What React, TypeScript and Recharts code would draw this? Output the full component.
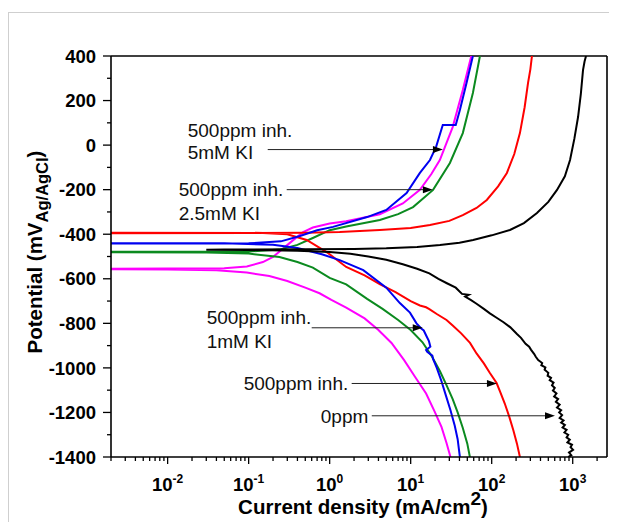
import React from "react";
import { LineChart, Line, XAxis, YAxis, ReferenceLine } from "recharts";

type Pt = [number, number];

// [current density mA/cm2, potential mV]
const blackCurve: Pt[] = [
  [880, -1400], [960, -1392], [900, -1380], [1010, -1368], [940, -1356], [980, -1345],
  [860, -1335], [920, -1322], [840, -1312], [880, -1300], [790, -1290], [840, -1278],
  [750, -1268], [800, -1256], [720, -1246], [770, -1236], [690, -1225], [740, -1212],
  [680, -1200], [720, -1190], [640, -1178], [690, -1165], [620, -1152], [660, -1140],
  [590, -1128], [630, -1115], [570, -1102], [600, -1090], [555, -1078], [580, -1066],
  [520, -1055], [540, -1045], [490, -1035], [500, -1022], [450, -1008], [460, -998],
  [410, -988], [420, -978], [375, -965], [350, -950], [335, -938], [305, -918], [290, -905],
  [262, -892], [230, -865], [205, -848], [170, -818], [140, -795], [115, -775], [95, -755],
  [80, -735], [65, -712], [55, -695], [47, -680], [52, -672], [43, -668], [36, -640],
  [28, -620], [22, -600], [17, -576], [12, -555], [8, -535], [5, -515], [3, -500],
  [1.8, -488], [1, -480], [0.4, -474], [0.1, -471], [0.03, -470],
  [0.05, -469], [0.5, -468], [2, -466], [5, -463], [12, -457], [23, -448], [40, -438],
  [59, -426], [100, -405], [168, -381], [250, -350], [362, -305], [500, -255],
  [640, -201], [800, -140], [927, -67], [1050, 30], [1164, 126], [1260, 230],
  [1340, 337], [1400, 375], [1460, 400],
];

const redCurve: Pt[] = [
  [223, -1400], [205, -1340], [185, -1280], [165, -1220], [145, -1160], [128, -1110],
  [115, -1068], [95, -1023], [80, -980], [65, -935], [54, -888], [42, -845], [33, -810],
  [27.7, -785], [21, -758], [17, -736], [15.5, -728], [13, -720], [10, -700], [6.5, -660],
  [4.2, -625], [2.7, -585], [1.6, -547], [0.95, -484], [0.52, -426], [0.3, -400],
  [0.15, -394], [0.002, -393],
  [0.002, -396], [0.1, -395], [0.5, -393], [1.33, -390], [4.16, -381], [10, -372],
  [17.3, -359], [30, -340], [44, -314], [65, -282], [87, -246], [120, -185], [154, -125],
  [190, -40], [223, 54], [255, 170], [281, 279], [300, 340], [314, 400],
];

const greenCurve: Pt[] = [
  [53.8, -1400], [50, -1340], [44, -1270], [38, -1200], [33, -1140], [27.5, -1075],
  [23, -1015], [18, -945], [14, -885], [10, -830], [7, -785], [4.5, -735], [2.9, -690],
  [1.6, -625], [1.0, -596], [0.62, -550], [0.4, -525], [0.24, -502], [0.1, -487],
  [0.03, -482], [0.002, -481],
  [0.002, -479], [0.1, -478], [0.24, -469], [0.4, -448], [0.62, -417], [1.0, -382],
  [1.6, -365], [4.16, -336], [7, -310], [10.7, -278], [18.9, -201], [30.5, -80],
  [44, 54], [58.6, 234], [71.6, 400],
];

const blueCurve: Pt[] = [
  [40.5, -1400], [38, -1320], [35, -1260], [31, -1190], [27, -1120], [24, -1060],
  [21, -1000], [19, -962], [18.5, -945], [16, -928], [15.5, -920], [17.5, -905],
  [16.8, -880], [15.8, -860], [14.5, -832], [13.5, -823], [11.8, -800], [9.8, -752],
  [7.35, -709], [5, -640], [2.6, -561], [1.33, -516], [0.8, -490], [0.4, -462],
  [0.2, -447], [0.05, -441], [0.002, -440],
  [0.002, -442], [0.1, -441], [0.25, -432], [0.43, -408], [0.7, -382], [1.1, -367],
  [2.9, -323], [5, -291], [8.9, -215], [13, -125], [17.3, -67], [20.6, -8], [24.9, 90],
  [36, 90], [40.5, 158], [48.9, 279], [58.6, 400],
];

const magentaCurve: Pt[] = [
  [31, -1400], [27.7, -1337], [24, -1265], [19.7, -1195], [15.5, -1115], [11.3, -1040],
  [8.3, -965], [5.8, -888], [4, -830], [2.7, -778], [1.6, -730], [1.05, -695],
  [0.75, -665], [0.5, -640], [0.3, -610], [0.18, -588], [0.095, -572], [0.04, -562],
  [0.01, -558], [0.002, -557],
  [0.002, -555], [0.05, -553], [0.095, -545], [0.15, -525], [0.2, -502], [0.32, -440],
  [0.47, -390], [0.62, -370], [1.0, -352], [1.6, -342], [4.16, -310], [8, -262],
  [13, -201], [18, -130], [22.9, -67], [33, 81], [44, 247], [56, 400],
];

const X_DOMAIN = [0.002, 2650];
const DECADES = [0.001, 0.01, 0.1, 1, 10, 100, 1000];
const MANTISSAS = [1, 2, 3, 4, 5, 6, 7, 8, 9];
const X_TICKS = DECADES.flatMap((d) => MANTISSAS.map((m) => +(m * d).toPrecision(3)))
  .filter((v) => v >= X_DOMAIN[0] && v <= X_DOMAIN[1]);

const Y_TICKS = [
  -1400, -1300, -1200, -1100, -1000, -900, -800, -700, -600, -500, -400,
  -300, -200, -100, 0, 100, 200, 300, 400,
];

// annotation texts and arrow segments (data coords)
const ANNOTATIONS = [
  { lines: ["500ppm inh.", "5mM KI"], from: [0.172, -20], to: [25, -20] },
  { lines: ["500ppm inh.", "2.5mM KI"], from: [0.295, -200], to: [18.8, -200] },
  { lines: ["500ppm inh.", "1mM KI"], from: [0.6, -820], to: [14.1, -820] },
  { lines: ["500ppm inh."], from: [1.87, -1070], to: [116, -1070] },
  { lines: ["0ppm"], from: [3.31, -1215], to: [604, -1215] },
];
// pixel offsets of the text lines from arrow start
const LABEL_OFFSETS = [
  { dx: -80, dys: [-13, 9] },
  { dx: -108, dys: [6.5, 30.5] },
  { dx: -105, dys: [-3.5, 20.5] },
  { dx: -108, dys: [6.5] },
  { dx: -51, dys: [7.5] },
];

const toRows = (pts: Pt[]) => pts.map(([x, y]) => ({ x, y }));

const SERIES = [
  { name: "magenta", data: magentaCurve, color: "#ff00ff" },
  { name: "green", data: greenCurve, color: "#0b8a1f" },
  { name: "red", data: redCurve, color: "#ff0000" },
  { name: "blue", data: blueCurve, color: "#0000f0" },
  { name: "black", data: blackCurve, color: "#000000" },
];

const FONT = "'Liberation Sans', Arial, sans-serif";

function XTick(props: any) {
  const { x, y, payload } = props;
  const v = payload.value;
  const lg = Math.log10(v);
  const major = Math.abs(lg - Math.round(lg)) < 1e-6;
  return (
    <g>
      <line x1={x} x2={x} y1={y} y2={y + (major ? 7 : 4)} stroke="#000" strokeWidth={1.3} />
      {major && (
        <text x={x} y={y + 34} textAnchor="middle" fontFamily={FONT} fontWeight="bold" fontSize={18.5} fill="#000">
          10<tspan dy={-8} fontSize={12}>{Math.round(lg)}</tspan>
        </text>
      )}
    </g>
  );
}

function YTick(props: any) {
  const { x, y, payload } = props;
  const v = payload.value;
  const major = v % 200 === 0;
  return (
    <g>
      <line x1={x} x2={x - (major ? 8 : 4)} y1={y} y2={y} stroke="#000" strokeWidth={1.3} />
      {major && (
        <text x={x - 15} y={y} dy="0.36em" textAnchor="end" fontFamily={FONT} fontWeight="bold" fontSize={18.5} fill="#000">
          {v}
        </text>
      )}
    </g>
  );
}

function arrowShape(i: number) {
  return (p: any) => {
    const { x1, y1, x2, y2 } = p;
    const off = LABEL_OFFSETS[i];
    return (
      <g>
        <line x1={x1} y1={y1} x2={x2 - 6} y2={y2} stroke="#222" strokeWidth={1} />
        <polygon points={`${x2},${y2} ${x2 - 10},${y2 - 3.5} ${x2 - 10},${y2 + 3.5}`} fill="#000" />
        {ANNOTATIONS[i].lines.map((t, k) => (
          <text key={k} x={x1 + off.dx} y={y1 + off.dys[k]} fontFamily={FONT} fontSize={19} fill="#111">
            {t}
          </text>
        ))}
      </g>
    );
  };
}

export default function App() {
  return (
    <div style={{ position: "relative", width: 609, height: 514 }}>
      <div
        style={{
          position: "absolute", left: 0, top: 4, width: 640, height: 560,
          borderTop: "1px solid #cfcfcf", borderLeft: "1px solid #cfcfcf",
        }}
      />
      <LineChart
        width={609}
        height={514}
        margin={{ top: 48, right: 10, left: 43, bottom: 25 }}
        style={{ position: "absolute", left: 0, top: 0 }}
      >
        <XAxis
          type="number"
          dataKey="x"
          scale="log"
          domain={X_DOMAIN}
          allowDataOverflow
          ticks={X_TICKS}
          interval={0}
          tickSize={0}
          tickMargin={0}
          tickLine={false}
          tick={(p: any) => <XTick {...p} />}
          axisLine={{ stroke: "#000", strokeWidth: 1.6 }}
          height={40}
          label={{
            content: () => (
              <text x={355} y={506} textAnchor="middle" fontFamily={FONT} fontWeight="bold" fontSize={20.5} fill="#000">
                Current density (mA/cm<tspan dy={-9} fontSize={19}>2</tspan><tspan dy={9}>)</tspan>
              </text>
            ),
          }}
        />
        <YAxis
          type="number"
          dataKey="y"
          domain={[-1400, 400]}
          allowDataOverflow
          ticks={Y_TICKS}
          interval={0}
          tickSize={0}
          tickMargin={0}
          tickLine={false}
          tick={(p: any) => <YTick {...p} />}
          axisLine={{ stroke: "#000", strokeWidth: 1.6 }}
          width={60}
          label={{
            content: () => (
              <text x={34} y={244} transform="rotate(-90, 34, 244)" textAnchor="middle" fontFamily={FONT} fontWeight="bold" fontSize={20.5} fill="#000">
                Potential (mV<tspan dy={6} fontSize={16.5}>Ag/AgCl</tspan><tspan dy={-6}>)</tspan>
              </text>
            ),
          }}
        />
        <ReferenceLine y={400} stroke="#000" strokeWidth={1.6} ifOverflow="visible" />
        <ReferenceLine x={X_DOMAIN[1]} stroke="#000" strokeWidth={1.6} ifOverflow="visible" />
        {SERIES.map((s) => (
          <Line
            key={s.name}
            data={toRows(s.data)}
            dataKey="y"
            type="linear"
            stroke={s.color}
            strokeWidth={2}
            dot={false}
            activeDot={false}
            isAnimationActive={false}
          />
        ))}
        {ANNOTATIONS.map((a, i) => (
          <ReferenceLine
            key={i}
            segment={[{ x: a.from[0], y: a.from[1] }, { x: a.to[0], y: a.to[1] }]}
            shape={arrowShape(i)}
            ifOverflow="visible"
          />
        ))}
      </LineChart>
    </div>
  );
}
